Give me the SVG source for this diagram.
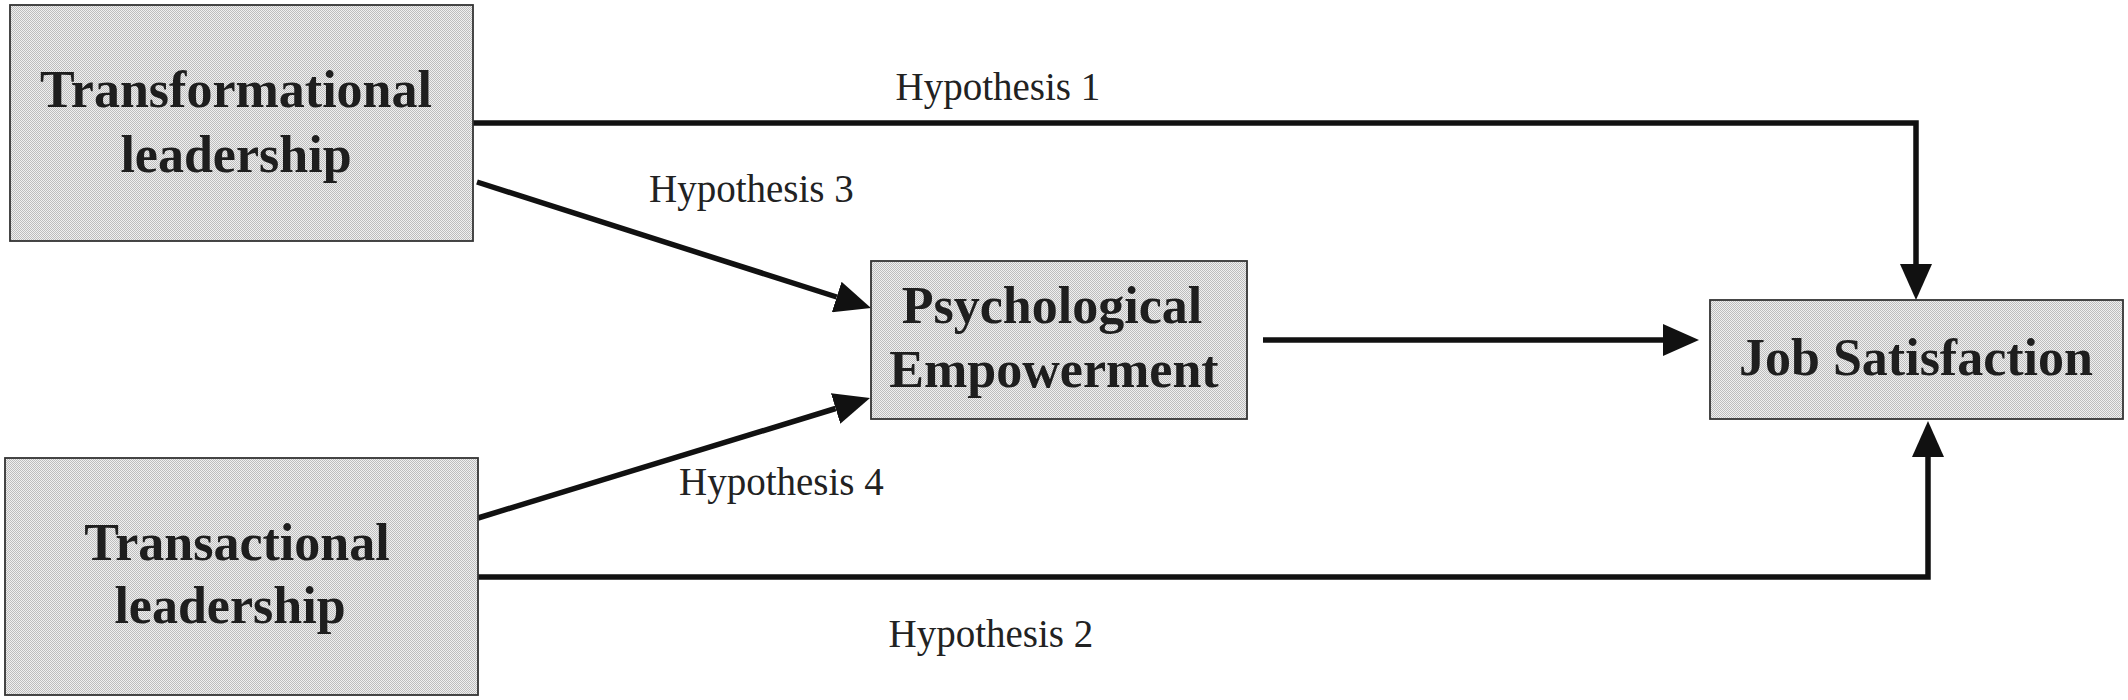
<svg xmlns="http://www.w3.org/2000/svg" width="2128" height="700" viewBox="0 0 2128 700">
<style>
.box{fill:url(#stip);stroke:#333;stroke-width:1.8}
.nt{font-family:"Liberation Serif","Times New Roman",serif;font-weight:bold;font-size:52px;fill:#1e1e1e;text-anchor:middle}
.lbl{font-family:"Liberation Serif","Times New Roman",serif;font-size:39px;fill:#222}
.con{fill:none;stroke:#111;stroke-width:5.5;stroke-linejoin:miter}
</style>
<defs>
<pattern id="stip" width="2" height="2" patternUnits="userSpaceOnUse">
<rect width="2" height="2" fill="#f0f0f0"/>
<rect width="1" height="1" fill="#bdbdbd"/>
<rect x="1" y="1" width="1" height="1" fill="#bdbdbd"/>
</pattern>
<marker id="ah" markerUnits="userSpaceOnUse" markerWidth="36" markerHeight="32" refX="0" refY="16" orient="auto">
<path d="M0,0 L36,16 L0,32 z" fill="#111"/>
</marker>
</defs>
<rect width="2128" height="700" fill="#fff"/>
<g id="connectors">
<polyline class="con" points="473,123 1916,123 1916,264" marker-end="url(#ah)"/>
<polyline class="con" points="478,577 1928,577 1928,457" marker-end="url(#ah)"/>
<line class="con" x1="477" y1="182" x2="836.7" y2="297" marker-end="url(#ah)"/>
<line class="con" x1="478" y1="518" x2="835.6" y2="408.5" marker-end="url(#ah)"/>
<line class="con" x1="1263" y1="340" x2="1663" y2="340" marker-end="url(#ah)"/>
</g>
<g id="labels">
<text class="lbl" x="895.5" y="100">Hypothesis 1</text>
<text class="lbl" x="649" y="202">Hypothesis 3</text>
<text class="lbl" x="679" y="495">Hypothesis 4</text>
<text class="lbl" x="888.5" y="647">Hypothesis 2</text>
</g>
<g id="transformational">
<rect class="box" x="10" y="5" width="463" height="236"/>
<text class="nt" x="236" y="107">Transformational</text>
<text class="nt" x="236" y="172">leadership</text>
</g>
<g id="transactional">
<rect class="box" x="5" y="458" width="473" height="237"/>
<text class="nt" x="237" y="560">Transactional</text>
<text class="nt" x="230" y="623">leadership</text>
</g>
<g id="empowerment">
<rect class="box" x="871" y="261" width="376" height="158"/>
<text class="nt" x="1052" y="323">Psychological</text>
<text class="nt" x="1054" y="387">Empowerment</text>
</g>
<g id="satisfaction">
<rect class="box" x="1710" y="300" width="413" height="119"/>
<text class="nt" x="1916" y="375">Job Satisfaction</text>
</g>
</svg>
